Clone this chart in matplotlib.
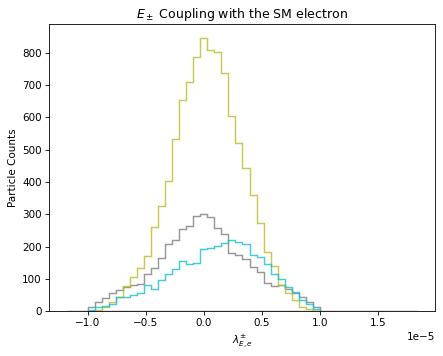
import numpy as np
import matplotlib
matplotlib.use("Agg")
import matplotlib.pyplot as plt

# shared bins for the visible histograms (units of 1e-5)
x_lo, x_hi, n_bins = -1.0e-5, 1.0e-5, 33

# wider, empty histogram drawn along the baseline
empty_lo, empty_hi, empty_bins = -1.18e-5, 1.84e-5, 50

gray_counts = [12, 28, 40, 56, 66, 75, 80, 83, 114, 134, 164, 208, 220, 253, 265,
               293, 302, 292, 257, 240, 179, 174, 161, 138, 120, 86, 79, 81, 70,
               57, 44, 29, 14]
olive_counts = [0, 3, 13, 29, 44, 77, 107, 133, 170, 259, 324, 403, 534, 653, 710,
                787, 847, 807, 803, 736, 605, 519, 443, 358, 272, 182, 140, 81, 55,
                34, 13, 6, 0]
cyan_counts = [3, 13, 16, 22, 45, 44, 50, 55, 81, 70, 96, 115, 131, 156, 146, 150,
               192, 197, 202, 211, 220, 214, 208, 174, 167, 146, 114, 98, 76, 60,
               34, 22, 8]

edges = np.linspace(x_lo, x_hi, n_bins + 1)
centers = 0.5 * (edges[:-1] + edges[1:])
empty_edges = np.linspace(empty_lo, empty_hi, empty_bins + 1)
empty_centers = 0.5 * (empty_edges[:-1] + empty_edges[1:])

fig = plt.figure(figsize=(443 / 75, 356 / 75), dpi=75)
ax = fig.add_axes([0.111, 0.126, 0.871, 0.807])

style = dict(histtype="step", linewidth=1.4, alpha=0.8)
ax.hist(empty_centers, bins=empty_edges, weights=np.zeros(empty_bins),
        color="tab:brown", **style)
ax.hist(centers, bins=edges, weights=gray_counts, color="tab:gray", **style)
ax.hist(centers, bins=edges, weights=olive_counts, color="tab:olive", **style)
ax.hist(centers, bins=edges, weights=cyan_counts, color="tab:cyan", **style)

ax.set_title(r"$E_\pm$ Coupling with the SM electron")
ax.set_xlabel(r"$\lambda^{\pm}_{E,e}$")
ax.set_ylabel("Particle Counts")

fig.savefig("out.png", dpi=75)
